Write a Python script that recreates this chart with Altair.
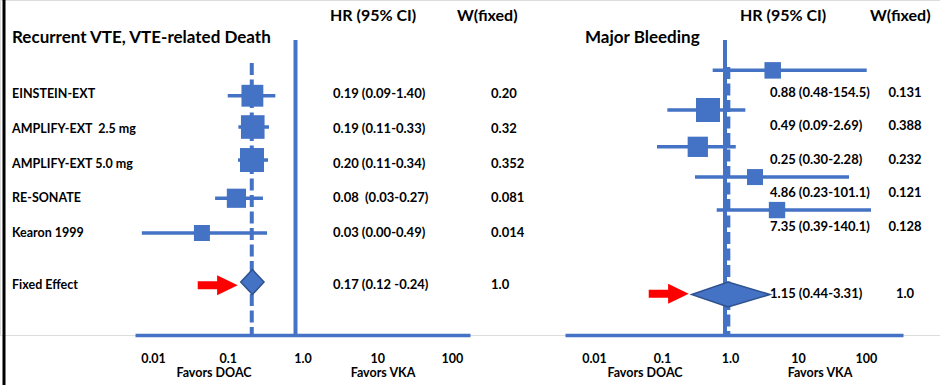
import altair as alt
import pandas as pd

BLUE = "#4472C4"
DARK = "#2F528F"
RED = "#FF0000"
FONT = "Lato"

# ---------------- data ----------------
tick_values = [0.01, 0.1, 1, 10, 100]
tick_labels = ["0.01", "0.1", "1.0", "10", "100"]

headers = ["HR (95% CI)", "W(fixed)"]

# Left panel: Recurrent VTE, VTE-related Death
left_title = "Recurrent VTE, VTE-related Death"
left_studies = ["EINSTEIN-EXT", "AMPLIFY-EXT \u00a02.5 mg", "AMPLIFY-EXT 5.0 mg", "RE-SONATE", "Kearon 1999"]
left_est = [0.265, 0.268, 0.262, 0.162, 0.056]
left_lo = [0.124, 0.172, 0.170, 0.084, 0.0088]
left_hi = [0.537, 0.442, 0.429, 0.367, 0.416]
left_weight = [0.20, 0.32, 0.352, 0.081, 0.014]
left_hr_text = ["0.19 (0.09-1.40)", "0.19 (0.11-0.33)", "0.20 (0.11-0.34)", "0.08 \u00a0(0.03-0.27)", "0.03 (0.00-0.49)"]
left_w_text = ["0.20", "0.32", "0.352", "0.081", "0.014"]
left_marker_row = [0.05, 0.95, 1.9, 3.0, 4.0]
left_text_row = [0.0, 1.0, 2.0, 3.0, 4.0]
left_pooled = {"label": "Fixed Effect", "est": 0.265, "lo": 0.185, "hi": 0.379,
               "marker_row": 5.41, "text_row": 5.5, "hr": "0.17 (0.12 -0.24)", "w": "1.0"}
left_dashed = 0.26

# Right panel: Major Bleeding
right_title = "Major Bleeding"
right_est = [5.03, 0.562, 0.398, 2.76, 5.82]
right_lo = [0.659, 0.142, 0.100, 0.362, 0.755]
right_hi = [121.3, 1.99, 1.44, 66.6, 140.3]
right_weight = [0.131, 0.388, 0.232, 0.121, 0.128]
right_hr_text = ["0.88 (0.48-154.5)", "0.49 (0.09-2.69)", "0.25 (0.30-2.28)", "4.86 (0.23-101.1)", "7.35 (0.39-140.1)"]
right_w_text = ["0.131", "0.388", "0.232", "0.121", "0.128"]
right_marker_row = [-0.68, 0.46, 1.52, 2.39, 3.34]
right_text_row = [-0.04, 0.91, 1.89, 2.84, 3.82]
right_pooled = {"label": "", "est": 1.11, "lo": 0.324, "hi": 4.59,
                "marker_row": 5.77, "text_row": 5.75, "hr": "1.15 (0.44-3.31)", "w": "1.0"}
right_dashed = 1.12

favors = ["Favors DOAC", "Favors VKA"]

# ---------------- layout / style ----------------
PLOT_H = 335
Y_DOMAIN = [-2.705, 6.935]
DIAMOND_HALF = 0.36
ARROW = "M-1,-0.2 L-0.03,-0.2 L-0.03,-0.5 L1,0 L-0.03,0.5 L-0.03,0.2 L-1,0.2 Z"

label_expr = " : ".join(
    f"datum.value < {v * 3.1623} ? '{t}'" for v, t in zip(tick_values[:-1], tick_labels[:-1])
) + f" : '{tick_labels[-1]}'"

left_layout = dict(domain=[0.007126, 216.0], range=[135, 470], label_offset=7,
                   hr_x=333, w_x=491, w_align="left", dash_top=63,
                   header_x=[330, 457], title_x=12, favors_x=[214, 383],
                   size_domain=[0.014, 0.352])
right_layout = dict(domain=[0.004436, 414.7], range=[565, 903], label_offset=5,
                    hr_x=770, w_x=905, w_align="center", dash_top=67,
                    header_x=[740, 870], title_x=585, favors_x=[645, 820],
                    size_domain=[0.121, 0.388])


def text_layer(df, field, x, y, size=12, align="left", baseline="middle"):
    return alt.Chart(df).mark_text(
        font=FONT, fontWeight="bold", fontSize=size, color="black",
        align=align, baseline=baseline
    ).encode(x=x, y=y, text=alt.Text(f"{field}:N"))


def build_panel(lay, title, studies, est, lo, hi, weight, hr_text, w_text,
                marker_row, text_row, pooled, dashed):
    xscale = alt.Scale(type="log", domain=lay["domain"], range=lay["range"], nice=False)
    xaxis = alt.Axis(orient="bottom", values=tick_values, labelExpr=label_expr, title=None,
                     ticks=False, grid=False, domainColor=BLUE, domainWidth=3.5,
                     labelFont=FONT, labelFontSize=12.5, labelFontWeight="bold",
                     labelColor="black", labelPadding=17, labelOffset=lay["label_offset"],
                     labelFlush=False, labelOverlap=False)
    yscale = alt.Scale(domain=Y_DOMAIN, range=[0, PLOT_H], nice=False, zero=False)

    def X(f):
        return alt.X(f"{f}:Q", scale=xscale, axis=xaxis)

    def Y(f):
        return alt.Y(f"{f}:Q", scale=yscale, axis=None)

    df = pd.DataFrame({"est": est, "lo": lo, "hi": hi, "w": weight, "hr": hr_text,
                       "wt": w_text, "mrow": marker_row, "trow": text_row,
                       "label": studies if studies else [""] * len(est)})
    pdf = pd.DataFrame({"est": [pooled["est"]], "lo": [pooled["lo"]], "hi": [pooled["hi"]],
                        "mrow": [pooled["marker_row"]], "trow": [pooled["text_row"]],
                        "hr": [pooled["hr"]], "wt": [pooled["w"]], "label": [pooled["label"]]})
    diamond = pd.DataFrame({
        "x": [pooled["lo"], pooled["est"], pooled["hi"]],
        "ytop": [pooled["marker_row"], pooled["marker_row"] - DIAMOND_HALF, pooled["marker_row"]],
        "ybot": [pooled["marker_row"], pooled["marker_row"] + DIAMOND_HALF, pooled["marker_row"]],
    })

    null_line = alt.Chart(pd.DataFrame({"x": [1.0]})).mark_rule(
        color=BLUE, strokeWidth=4).encode(x=X("x"), y=alt.value(40), y2=alt.value(PLOT_H))
    dash_line = alt.Chart(pd.DataFrame({"x": [dashed]})).mark_rule(
        color=BLUE, strokeWidth=4, strokeDash=[12, 4.5]).encode(
        x=X("x"), y=alt.value(lay["dash_top"]), y2=alt.value(PLOT_H))
    ci = alt.Chart(df).mark_rule(color=BLUE, strokeWidth=3.5).encode(
        x=X("lo"), x2="hi:Q", y=Y("mrow"))
    squares = alt.Chart(df).mark_square(color=BLUE, opacity=1, strokeWidth=0).encode(
        x=X("est"), y=Y("mrow"),
        size=alt.Size("w:Q", scale=alt.Scale(type="sqrt", domain=lay["size_domain"],
                                             range=[256, 576]), legend=None))
    dia = alt.Chart(diamond).mark_area(fill=BLUE, stroke=DARK, strokeWidth=1.5, opacity=1,
                                       orient="vertical").encode(
        x=X("x"), y=Y("ytop"), y2="ybot:Q")
    arrow = alt.Chart(pdf).mark_point(shape=ARROW, filled=True, color=RED, size=1600,
                                      opacity=1, strokeWidth=0, xOffset=-23).encode(
        x=X("lo"), y=Y("trow"))

    layers = [null_line, dash_line, ci, squares, dia, arrow]
    both = pd.concat([df, pdf], ignore_index=True)
    if studies:
        layers.append(text_layer(both, "label", alt.value(12), Y("trow"), size=12.5))
    layers.append(text_layer(both, "hr", alt.value(lay["hr_x"]), Y("trow"), size=13))
    layers.append(text_layer(both, "wt", alt.value(lay["w_x"]), Y("trow"), size=13,
                             align=lay["w_align"]))
    for h, hx in zip(headers, lay["header_x"]):
        layers.append(text_layer(pd.DataFrame({"t": [h]}), "t", alt.value(hx), alt.value(21),
                                 size=16, baseline="alphabetic"))
    layers.append(text_layer(pd.DataFrame({"t": [title]}), "t", alt.value(lay["title_x"]),
                             alt.value(43), size=17, baseline="alphabetic"))
    for f, fx in zip(favors, lay["favors_x"]):
        layers.append(text_layer(pd.DataFrame({"t": [f]}), "t", alt.value(fx), alt.value(377),
                                 size=12.5, align="center", baseline="alphabetic"))
    return alt.layer(*layers)


left = build_panel(left_layout, left_title, left_studies, left_est, left_lo, left_hi,
                   left_weight, left_hr_text, left_w_text, left_marker_row, left_text_row,
                   left_pooled, left_dashed)
right = build_panel(right_layout, right_title, None, right_est, right_lo, right_hi,
                    right_weight, right_hr_text, right_w_text, right_marker_row, right_text_row,
                    right_pooled, right_dashed)

border = alt.Chart(pd.DataFrame({"a": [0]})).mark_rule(color="black", strokeWidth=3).encode(
    x=alt.value(4), y=alt.value(0), y2=alt.value(385))

chart = alt.layer(left, right, border).resolve_scale(
    x="independent", size="independent"
).resolve_axis(x="independent").properties(
    width=940, height=PLOT_H, autosize="none",
    padding={"left": 0, "top": 0, "right": 0, "bottom": 50}
).configure_view(stroke=None).configure(background="white")

chart.save("out.html", embed_options={"renderer": "svg", "actions": False})
